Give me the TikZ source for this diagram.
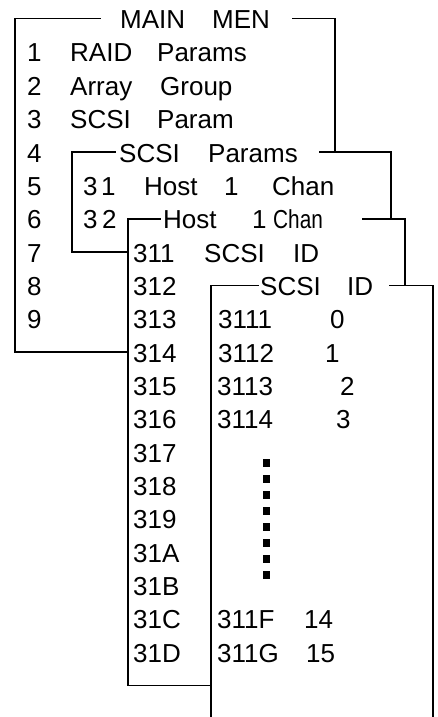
\documentclass[tikz,border=0pt]{standalone}
\usepackage{fontspec}
\setmainfont{Liberation Sans}
\tikzset{
    % Menu text, placed on its baseline
    menutext/.style={
        anchor=base west,
        inner sep=0pt,
        font=\fontsize{26}{30}\selectfont
    },
    % Frame lines of the menus
    frameline/.style={
        line width=1.6pt,
        draw=black,
        line cap=rect
    },
    % Square dots of the ID list
    iddot/.style={
        fill=black
    }
}
\begin{document}
\begin{tikzpicture}[x=1pt, y=-33.35pt]
    \useasboundingbox (0,-0.859) rectangle (438,20.641);

    % Main menu
    \node[menutext] (maint) at (120,0) {MAIN};
    \node[menutext] (menn) at (212,0) {MEN};
    \foreach \n in {1,...,9}
        \node[menutext] (num\n) at (27,\n) {\n};
    \node[menutext] (raid) at (70,1) {RAID};
    \node[menutext] (raidp) at (157,1) {Params};
    \node[menutext] (array) at (70,2) {Array};
    \node[menutext] (arrayg) at (160,2) {Group};
    \node[menutext] (scsi) at (70,3) {SCSI};
    \node[menutext] (scsip) at (157,3) {Param};

    % SCSI params menu
    \node[menutext] (sp) at (119,4) {SCSI};
    \node[menutext] (spp) at (208,4) {Params};
    \node[menutext] (ha) at (83,5) {3};
    \node[menutext] (hb) at (101,5) {1};
    \node[menutext] (hhost) at (144,5) {Host};
    \node[menutext] (hone) at (224,5) {1};
    \node[menutext] (hchan) at (272,5) {Chan};
    \node[menutext] (hc) at (83,6) {3};
    \node[menutext] (hd) at (102,6) {2};

    % Host channel menu
    \node[menutext] (chost) at (163,6) {Host};
    \node[menutext] (cone) at (252,6) {1};
    \node[menutext] (cchan) at (273,6) {\scalebox{0.8}[1]{Chan}};
    \foreach \id [count=\r from 7] in {311,312,313,314,315,316,317,318,319,31A,31B,31C,31D}
        \node[menutext] (id\id) at (133,\r) {\id};
    \node[menutext] (cscsi) at (204,7) {SCSI};
    \node[menutext] (cid) at (293,7) {ID};

    % SCSI ID menu
    \node[menutext] (ts) at (260,8) {SCSI};
    \node[menutext] (tid) at (347,8) {ID};
    \node[menutext] (la) at (218,9) {3111};
    \node[menutext] (va) at (330,9) {0};
    \node[menutext] (lb) at (218,10) {3112};
    \node[menutext] (vb) at (325,10) {1};
    \node[menutext] (lc) at (217,11) {3113};
    \node[menutext] (vc) at (340,11) {2};
    \node[menutext] (ld) at (217,12) {3114};
    \node[menutext] (vd) at (336,12) {3};
    \node[menutext] (le) at (217,18) {311F};
    \node[menutext] (ve) at (304,18) {14};
    \node[menutext] (lf) at (217,19) {311G};
    \node[menutext] (vf) at (306,19) {15};
    \foreach \d in {0,...,7}
        \fill[iddot] (263.5,{13.02+0.48*\d-0.12}) rectangle ++(7,0.24);

    % Frames
    \draw[frameline] (100,-0.3) -- (15,-0.3) -- (15,9.7) -- (128,9.7);
    \draw[frameline] (293,-0.3) -- (335,-0.3) -- (335,3.7);
    \draw[frameline] (115,3.7) -- (72,3.7) -- (72,6.7) -- (128,6.7);
    \draw[frameline] (320,3.7) -- (391,3.7) -- (391,5.7);
    \draw[frameline] (160,5.7) -- (128,5.7) -- (128,19.7) -- (211,19.7);
    \draw[frameline] (363,5.7) -- (405,5.7) -- (405,7.7);
    \draw[frameline] (258,7.7) -- (211,7.7) -- (211,20.641);
    \draw[frameline] (390,7.7) -- (433,7.7) -- (433,20.641);
\end{tikzpicture}
\end{document}
